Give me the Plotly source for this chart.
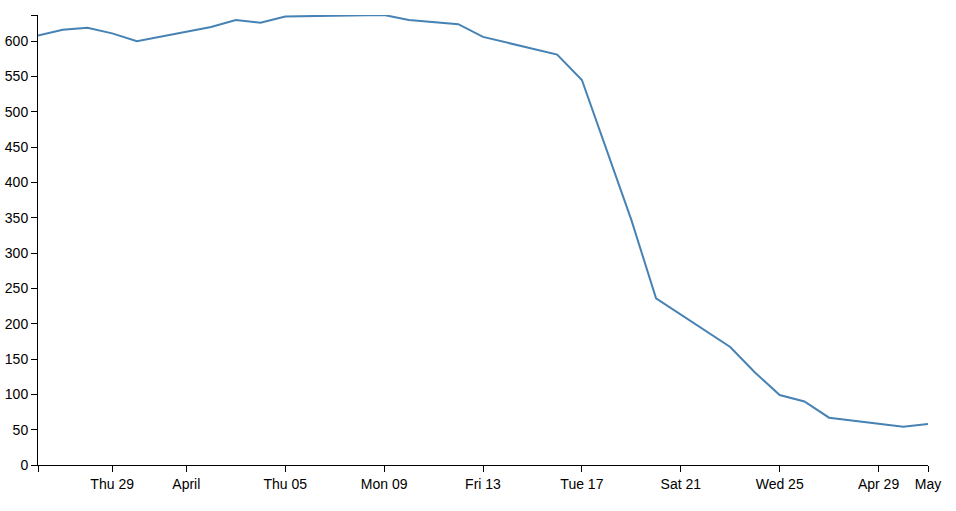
import plotly.graph_objects as go

dates = ["2018-03-26", "2018-03-27", "2018-03-28", "2018-03-29", "2018-03-30",
         "2018-04-02", "2018-04-03", "2018-04-04", "2018-04-05", "2018-04-09",
         "2018-04-10", "2018-04-11", "2018-04-12", "2018-04-13", "2018-04-16",
         "2018-04-17", "2018-04-19", "2018-04-20", "2018-04-23", "2018-04-24",
         "2018-04-25", "2018-04-26", "2018-04-27", "2018-04-30", "2018-05-01"]
values = [608, 616, 619, 611, 600,
          620, 630, 626, 635, 637,
          630, 627, 624, 606, 581,
          545, 347, 236, 167, 131,
          99, 90, 67, 54, 58]

x_tick_vals = ["2018-03-26", "2018-03-29", "2018-04-01", "2018-04-05", "2018-04-09",
               "2018-04-13", "2018-04-17", "2018-04-21", "2018-04-25", "2018-04-29",
               "2018-05-01"]
x_tick_text = ["", "Thu 29", "April", "Thu 05", "Mon 09", "Fri 13", "Tue 17",
               "Sat 21", "Wed 25", "Apr 29", "May"]
y_tick_vals = list(range(0, 601, 50))
y_tick_text = [str(v) for v in y_tick_vals]

ymax = max(values)

fig = go.Figure()
fig.add_trace(go.Scatter(x=dates, y=values, mode="lines",
                         line=dict(color="#4682b4", width=2),
                         hoverinfo="x+y"))

fig.update_layout(
    width=956, height=511,
    margin=dict(l=38, r=28, t=15, b=46),
    plot_bgcolor="white", paper_bgcolor="white",
    showlegend=False,
    font=dict(family="Liberation Sans, Arial, sans-serif", size=14, color="#000"),
    xaxis=dict(type="date", range=[x_tick_vals[0], x_tick_vals[-1]],
               tickvals=x_tick_vals, ticktext=x_tick_text,
               showgrid=False, zeroline=False, automargin=False,
               showline=True, linecolor="#000", linewidth=1,
               ticks="outside", ticklen=6, tickcolor="#000", tickwidth=1),
    yaxis=dict(range=[0, ymax],
               tickvals=y_tick_vals + [ymax], ticktext=y_tick_text + [""],
               showgrid=False, zeroline=False, automargin=False,
               showline=True, linecolor="#000", linewidth=1,
               ticks="outside", ticklen=6, tickcolor="#000", tickwidth=1),
)

fig.write_html("out.html", config={"displayModeBar": False},
               post_script="document.body.style.margin='0';document.body.style.overflow='hidden';")
